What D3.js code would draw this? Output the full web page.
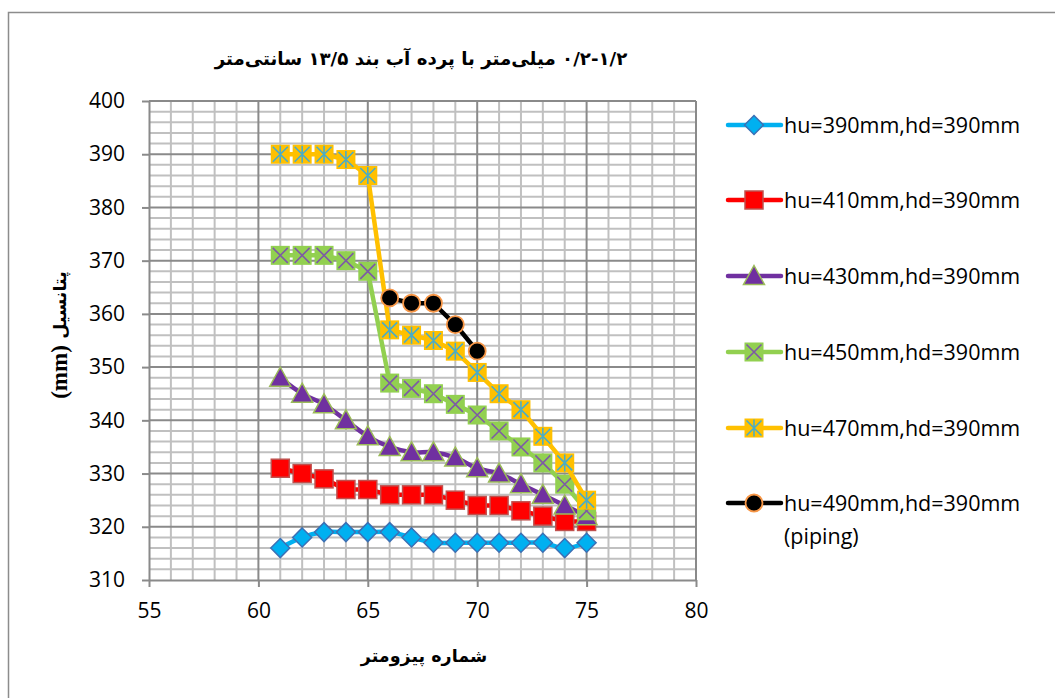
<!DOCTYPE html>
<html>
<head>
<meta charset="utf-8">
<script src="https://cdn.jsdelivr.net/npm/d3@7/dist/d3.min.js"></script>
<style>
    body { margin: 0; background: #fff; }
    .tick text { font-family: "Open Sans", sans-serif; font-size: 21px; fill: #000; }
    .fa { font-family: "DejaVu Sans", sans-serif; font-weight: bold; }
    .legend text { font-family: "Open Sans", sans-serif; font-size: 21.5px; }
</style>
</head>
<body>
<div id="chart"></div>
<script>
// piezometer numbers on the x axis
var piezometers = [61, 62, 63, 64, 65, 66, 67, 68, 69, 70, 71, 72, 73, 74, 75];
var pipingPiezometers = [66, 67, 68, 69, 70];

// potential readings (mm)
var hu390 = [316, 318, 319, 319, 319, 319, 318, 317, 317, 317, 317, 317, 317, 316, 317];
var hu410 = [331, 330, 329, 327, 327, 326, 326, 326, 325, 324, 324, 323, 322, 321, 321];
var hu430 = [348, 345, 343, 340, 337, 335, 334, 334, 333, 331, 330, 328, 326, 324, 322];
var hu450 = [371, 371, 371, 370, 368, 347, 346, 345, 343, 341, 338, 335, 332, 328, 323];
var hu470 = [390, 390, 390, 389, 386, 357, 356, 355, 353, 349, 345, 342, 337, 332, 325];
var hu490 = [363, 362, 362, 358, 353];

var seriesNames = ["hu=390mm,hd=390mm", "hu=410mm,hd=390mm", "hu=430mm,hd=390mm",
    "hu=450mm,hd=390mm", "hu=470mm,hd=390mm", "hu=490mm,hd=390mm"];

var xTicks = [55, 60, 65, 70, 75, 80];
var yTicks = [310, 320, 330, 340, 350, 360, 370, 380, 390, 400];

var chartTitle = "۰/۲-۱/۲ میلی‌متر با پرده آب بند ۱۳/۵ سانتی‌متر";
var xTitle = "شماره پیزومتر";
var yTitleWord = "پتانسیل";
var yTitleUnit = "(mm)";

var width = 1055, height = 698;
var plot = { left: 149, right: 696, top: 101, bottom: 580 };

var xScale = d3.scaleLinear().domain([55, 80]).range([plot.left, plot.right]);
var yScale = d3.scaleLinear().domain([310, 400]).range([plot.bottom, plot.top]);

var series = [
    { name: seriesNames[0], xs: piezometers, ys: hu390, color: "#00B0F0", marker: "diamond", smooth: true },
    { name: seriesNames[1], xs: piezometers, ys: hu410, color: "#FF0000", marker: "square", smooth: false },
    { name: seriesNames[2], xs: piezometers, ys: hu430, color: "#7030A0", marker: "triangle", smooth: true },
    { name: seriesNames[3], xs: piezometers, ys: hu450, color: "#92D050", marker: "xsquare", smooth: false },
    { name: seriesNames[4], xs: piezometers, ys: hu470, color: "#FFC000", marker: "star", smooth: false },
    { name: seriesNames[5], xs: pipingPiezometers, ys: hu490, color: "#000000", marker: "circle", smooth: false }
];

var svg = d3.select("#chart")
    .append("svg")
    .attr("width", width)
    .attr("height", height);

// outer chart frame (right / bottom edge are off the picture)
svg.append("rect")
    .attr("x", 8.5).attr("y", 12.5)
    .attr("width", 1060).attr("height", 700)
    .attr("fill", "#fff")
    .attr("stroke", "#8c8c8c")
    .attr("stroke-width", 1.5);

// grid
var grid = svg.append("g").attr("class", "grid");
var minorX = d3.range(56, 80).filter(function(v) { return v % 5 != 0; });
var minorY = d3.range(312, 400, 2).filter(function(v) { return v % 10 != 0; });

grid.selectAll(".minor-x").data(minorX).enter().append("line")
    .attr("x1", function(d) { return xScale(d); })
    .attr("x2", function(d) { return xScale(d); })
    .attr("y1", plot.top).attr("y2", plot.bottom)
    .attr("stroke", "#c0c0c0").attr("stroke-width", 2);

grid.selectAll(".minor-y").data(minorY).enter().append("line")
    .attr("y1", function(d) { return yScale(d); })
    .attr("y2", function(d) { return yScale(d); })
    .attr("x1", plot.left).attr("x2", plot.right)
    .attr("stroke", "#c0c0c0").attr("stroke-width", 2);

grid.selectAll(".major-x").data(xTicks.slice(1)).enter().append("line")
    .attr("x1", function(d) { return xScale(d); })
    .attr("x2", function(d) { return xScale(d); })
    .attr("y1", plot.top).attr("y2", plot.bottom)
    .attr("stroke", "#8a8a8a").attr("stroke-width", 2);

grid.selectAll(".major-y").data(yTicks.slice(1)).enter().append("line")
    .attr("y1", function(d) { return yScale(d); })
    .attr("y2", function(d) { return yScale(d); })
    .attr("x1", plot.left).attr("x2", plot.right)
    .attr("stroke", "#8a8a8a").attr("stroke-width", 2);

// axes
var yAxis = d3.axisLeft(yScale).tickValues(yTicks).tickSizeInner(7).tickSizeOuter(0).tickPadding(17);
svg.append("g")
    .attr("class", "axis y-axis")
    .attr("transform", "translate(" + plot.left + ",0)")
    .call(yAxis);

var xAxis = d3.axisBottom(xScale).tickValues(xTicks).tickSizeInner(7).tickSizeOuter(0).tickPadding(16);
svg.append("g")
    .attr("class", "axis x-axis")
    .attr("transform", "translate(0," + plot.bottom + ")")
    .call(xAxis);

svg.selectAll(".axis path, .axis line")
    .attr("stroke", "#8a8a8a")
    .attr("stroke-width", 2);

// markers
function drawMarker(g, type, cx, cy, color) {
    if (type == "diamond") {
        g.append("path")
            .attr("d", "M" + cx + "," + (cy - 9.5) + "L" + (cx + 9.5) + "," + cy + "L" + cx + "," + (cy + 9.5) + "L" + (cx - 9.5) + "," + cy + "Z")
            .attr("fill", color).attr("stroke", "#3b70b5").attr("stroke-width", 1.5);
    } else if (type == "square") {
        g.append("rect")
            .attr("x", cx - 9).attr("y", cy - 9).attr("width", 18).attr("height", 18)
            .attr("fill", color).attr("stroke", "#c0504d").attr("stroke-width", 1.5);
    } else if (type == "triangle") {
        g.append("path")
            .attr("d", "M" + cx + "," + (cy - 10.5) + "L" + (cx + 10.5) + "," + (cy + 8.5) + "L" + (cx - 10.5) + "," + (cy + 8.5) + "Z")
            .attr("fill", color).attr("stroke", "#9bbb59").attr("stroke-width", 1.5);
    } else if (type == "xsquare" || type == "star") {
        var crossColor = type == "xsquare" ? "#7d5aa6" : "#4bacc6";
        g.append("rect")
            .attr("x", cx - 9.5).attr("y", cy - 9.5).attr("width", 19).attr("height", 19)
            .attr("fill", color);
        g.append("path")
            .attr("d", "M" + (cx - 7.5) + "," + (cy - 7.5) + "L" + (cx + 7.5) + "," + (cy + 7.5) +
                "M" + (cx - 7.5) + "," + (cy + 7.5) + "L" + (cx + 7.5) + "," + (cy - 7.5) +
                (type == "star" ? "M" + cx + "," + (cy - 8.5) + "L" + cx + "," + (cy + 8.5) : ""))
            .attr("stroke", crossColor).attr("stroke-width", 1.6).attr("fill", "none");
    } else if (type == "circle") {
        g.append("circle")
            .attr("cx", cx).attr("cy", cy).attr("r", 8.5)
            .attr("fill", color).attr("stroke", "#f79646").attr("stroke-width", 1.8);
    }
}

// series
series.forEach(function(s) {
    var g = svg.append("g").attr("class", "series");
    var points = s.xs.map(function(v, i) { return [v, s.ys[i]]; });

    var line = d3.line()
        .x(function(d) { return xScale(d[0]); })
        .y(function(d) { return yScale(d[1]); })
        .curve(s.smooth ? d3.curveCatmullRom.alpha(0) : d3.curveLinear);

    g.append("path")
        .datum(points)
        .attr("d", line)
        .attr("fill", "none")
        .attr("stroke", s.color)
        .attr("stroke-width", 4.5)
        .attr("stroke-linejoin", "round");

    points.forEach(function(p) {
        drawMarker(g, s.marker, xScale(p[0]), yScale(p[1]), s.color);
    });
});

// legend
var legend = svg.append("g").attr("class", "legend");
var legendY = [125, 200, 276, 352, 428, 503];
series.forEach(function(s, i) {
    var g = legend.append("g");
    g.append("line")
        .attr("x1", 728).attr("x2", 781)
        .attr("y1", legendY[i]).attr("y2", legendY[i])
        .attr("stroke", s.color).attr("stroke-width", 4.5)
        .attr("stroke-linecap", "round");
    drawMarker(g, s.marker, 754, legendY[i], s.color);
    g.append("text")
        .attr("x", 784).attr("y", legendY[i])
        .attr("dy", "0.35em")
        .text(s.name);
});
legend.append("text")
    .attr("x", 784).attr("y", 536)
    .attr("dy", "0.35em")
    .text("(piping)");

// titles
svg.append("text")
    .attr("class", "fa")
    .attr("x", 421).attr("y", 65)
    .attr("direction", "rtl")
    .attr("text-anchor", "middle")
    .attr("font-size", 18.2)
    .text(chartTitle);

svg.append("text")
    .attr("class", "fa")
    .attr("x", 424).attr("y", 662)
    .attr("direction", "rtl")
    .attr("text-anchor", "middle")
    .attr("font-size", 17.5)
    .text(xTitle);

// y title: persian word (upper part) and serif unit (lower part)
svg.append("text")
    .attr("class", "fa")
    .attr("transform", "translate(66,305) rotate(-90)")
    .attr("direction", "rtl")
    .attr("text-anchor", "middle")
    .attr("font-size", 17.5)
    .text(yTitleWord);

svg.append("text")
    .attr("transform", "translate(67,372) rotate(-90)")
    .attr("text-anchor", "middle")
    .attr("font-family", "'Liberation Serif', serif")
    .attr("font-weight", "bold")
    .attr("font-size", 23)
    .text(yTitleUnit);
</script>
</body>
</html>
